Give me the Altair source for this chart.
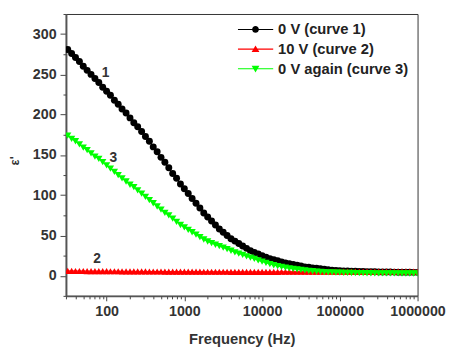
import altair as alt
import pandas as pd

series_names = ["0 V (curve 1)", "10 V (curve 2)", "0 V again (curve 3)"]
series_colors = ["#000000", "#ff0000", "#00ff00"]

freq = [31.6, 35.5, 39.8, 44.7, 50.1, 56.2, 63.1, 70.8, 79.4, 89.1,
        100, 112, 126, 141, 158, 178, 200, 224, 251, 282,
        316, 355, 398, 447, 501, 562, 631, 708, 794, 891,
        1000, 1122, 1259, 1413, 1585, 1778, 1995, 2239, 2512, 2818,
        3162, 3548, 3981, 4467, 5012, 5623, 6310, 7079, 7943, 8913,
        10000, 11220, 12589, 14125, 15849, 17783, 19953, 22387, 25119, 28184,
        31623, 35481, 39811, 44668, 50119, 56234, 63096, 70795, 79433, 89125,
        100000, 112202, 125893, 141254, 158489, 177828, 199526, 223872, 251189, 281838,
        316228, 354813, 398107, 446684, 501187, 562341, 630957, 707946, 794328, 891251,
        1000000]

eps_curve1 = [281, 276, 271, 266, 260, 255, 250, 245, 240, 234,
              229, 224, 218, 213, 207, 202, 196, 190, 185, 179,
              173, 167, 160, 154, 147, 141, 134, 127, 121, 114,
              108, 102, 96, 90, 84, 78, 73, 68, 63, 58,
              54, 50, 46, 43, 40, 37, 34, 31, 29, 27,
              25, 23, 21, 20, 18.5, 17, 16, 15, 14, 13,
              12, 11, 10.5, 9.8, 9.2, 8.6, 8.0, 7.5, 7.0, 6.6,
              6.3, 6.0, 5.8, 5.6, 5.5, 5.3, 5.2, 5.1, 5.0, 4.9,
              4.8, 4.7, 4.6, 4.6, 4.5, 4.4, 4.4, 4.3, 4.3, 4.2,
              4.2]

eps_curve2 = [6.0, 6.0, 5.9, 5.9, 5.9, 5.8, 5.8, 5.8, 5.7, 5.7,
              5.7, 5.6, 5.6, 5.6, 5.5, 5.5, 5.5, 5.4, 5.4, 5.4,
              5.4, 5.3, 5.3, 5.3, 5.3, 5.2, 5.2, 5.2, 5.2, 5.2,
              5.1, 5.1, 5.1, 5.1, 5.1, 5.0, 5.0, 5.0, 5.0, 5.0,
              5.0, 5.0, 4.9, 4.9, 4.9, 4.9, 4.9, 4.9, 4.9, 4.9,
              4.9, 4.9, 4.9, 4.9, 4.9, 5.0, 5.0, 5.0, 5.0, 5.0,
              5.0, 5.0, 5.0, 5.1, 5.1, 5.1, 5.1, 5.1, 5.1, 5.1,
              5.2, 5.2, 5.2, 5.2, 5.2, 5.2, 5.2, 5.2, 5.2, 5.2,
              5.3, 5.3, 5.3, 5.3, 5.3, 5.3, 5.3, 5.3, 5.3, 5.3,
              5.3]

eps_curve3 = [174, 170, 167, 163, 159, 156, 152, 148, 145, 141,
              137, 133, 129, 125, 121, 117, 113, 110, 106, 102,
              98, 94, 90, 86, 82, 78, 75, 71, 67, 63,
              60, 57, 54, 51, 48, 45, 42.5, 40.5, 38.5, 36.7,
              35, 33, 31, 29, 27.5, 26, 24, 22.5, 21, 19,
              17.5, 16, 14.5, 13, 12, 11, 10, 9.2, 8.5, 7.8,
              7.2, 6.6, 6.1, 5.6, 5.2, 4.9, 4.6, 4.3, 4.1, 3.9,
              3.8, 3.6, 3.5, 3.4, 3.3, 3.2, 3.2, 3.1, 3.1, 3.0,
              3.0, 3.0, 2.9, 2.9, 2.9, 2.9, 2.8, 2.8, 2.8, 2.8,
              2.8]

ann_text = ["1", "2", "3"]
ann_freq = [97, 75.5, 122]
ann_val = [252, 20.7, 146]

x_major = [100, 1000, 10000, 100000, 1000000]
x_minor = [m * 10 ** e for e in range(1, 6) for m in range(2, 10) if m * 10 ** e >= 30]
y_major = [0, 50, 100, 150, 200, 250, 300]
y_minor = [-25, 25, 75, 125, 175, 225, 275, 325]

rows = []
for name, vals in zip(series_names, [eps_curve1, eps_curve2, eps_curve3]):
    for f, v in zip(freq, vals):
        rows.append({"freq": f, "eps": v, "series": name})
df = pd.DataFrame(rows)
ann = pd.DataFrame({"t": ann_text, "f": ann_freq, "v": ann_val})

FONT = "Liberation Sans"
x_scale = alt.Scale(type="log", domain=[30, 1000000], nice=False)
y_scale = alt.Scale(domain=[-25, 325], nice=False, zero=False)

x_main = alt.X("freq:Q", scale=x_scale,
               axis=alt.Axis(orient="bottom", values=x_major, format="d", title="Frequency (Hz)", tickSize=5,
                             labelOverlap=False, labelFlush=False, grid=False,
                             labelPadding=4, titleX=179, titleY=37, titleBaseline="top",
                             titleAnchor="middle", titleAlign="center"))
y_main = alt.Y("eps:Q", scale=y_scale,
               axis=alt.Axis(orient="left", values=y_major, title="ε'", tickSize=6,
                             labelOverlap=False, grid=False, labelPadding=4,
                             titleX=-52, titleY=149, titleAngle=270, titleFontSize=13,
                             titleAlign="center", titleBaseline="middle"))
x_plain = alt.X("freq:Q", scale=x_scale, axis=None)
y_plain = alt.Y("eps:Q", scale=y_scale, axis=None)

color_scale = alt.Scale(domain=series_names, range=series_colors)

lines = alt.Chart(df).mark_line(strokeWidth=1, clip=True).encode(
    x=x_main, y=y_main,
    color=alt.Color("series:N", scale=color_scale, legend=None),
    detail="series:N",
)

points = alt.Chart(df).mark_point(filled=True, opacity=1, clip=True).encode(
    x=x_plain, y=y_plain,
    color=alt.Color("series:N", scale=color_scale, legend=None),
    shape=alt.Shape("series:N", scale=alt.Scale(domain=series_names,
                                                 range=["circle", "triangle-up", "triangle-down"]), legend=None),
    size=alt.Size("series:N", scale=alt.Scale(domain=series_names, range=[50, 55, 75]), legend=None),
)

labels = alt.Chart(ann).mark_text(font=FONT, fontSize=14, fontWeight="bold", color="#333333").encode(
    x=alt.X("f:Q", scale=x_scale, axis=None), y=alt.Y("v:Q", scale=y_scale, axis=None), text="t:N"
)

minor_axes = alt.Chart(df).transform_filter("false").mark_point().encode(
    x=alt.X("freq:Q", scale=x_scale,
            axis=alt.Axis(orient="bottom", values=x_minor, tickSize=3, labels=False, title=None,
                          domain=False, grid=False)),
    y=alt.Y("eps:Q", scale=y_scale,
            axis=alt.Axis(orient="left", values=y_minor, tickSize=3, labels=False, title=None,
                          domain=False, grid=False)),
)

legend_paths = [
    "M-1,-0.03H1V0.03H-1Z M0.19,0A0.19,0.19 0 1,1 -0.19,0A0.19,0.19 0 1,1 0.19,0Z",
    "M-1,-0.03H1V0.03H-1Z M0,-0.21L0.22,0.17L-0.22,0.17Z",
    "M-1,-0.03H1V0.03H-1Z M-0.22,-0.17L0.22,-0.17L0,0.21Z",
]

legend_layer = alt.Chart(df).transform_filter("false").mark_point(filled=True, opacity=1).encode(
    color=alt.Color("series:N", scale=alt.Scale(domain=series_names, range=series_colors),
                    legend=alt.Legend(title=None, orient="none", legendX=175, legendY=6,
                                      symbolSize=1296, symbolStrokeWidth=0, symbolOpacity=1,
                                      labelFont=FONT, labelFontSize=15, labelFontWeight="bold",
                                      labelColor="#222222", labelOffset=5, rowPadding=0,
                                      clipHeight=19.5, padding=0, labelLimit=300)),
    shape=alt.Shape("series:N", scale=alt.Scale(domain=series_names, range=legend_paths)),
)

chart = alt.layer(lines, points, labels, minor_axes, legend_layer).resolve_scale(
    color="independent", shape="independent", size="independent"
).resolve_axis(x="independent", y="independent").properties(
    width=358, height=287, autosize="none",
    padding={"left": 59, "top": 3, "right": 32, "bottom": 52},
).configure(font=FONT).configure_view(
    stroke="#333333", strokeWidth=1
).configure_axis(
    domainColor="#555555", domainWidth=2, tickColor="#444444", tickWidth=1,
    labelFont=FONT, labelFontSize=14.5, labelFontWeight="bold", labelColor="#333333",
    titleFont=FONT, titleFontSize=15, titleFontWeight="bold", titleColor="#333333",
)

chart.save("out.html", embed_options={"renderer": "svg", "actions": False})
